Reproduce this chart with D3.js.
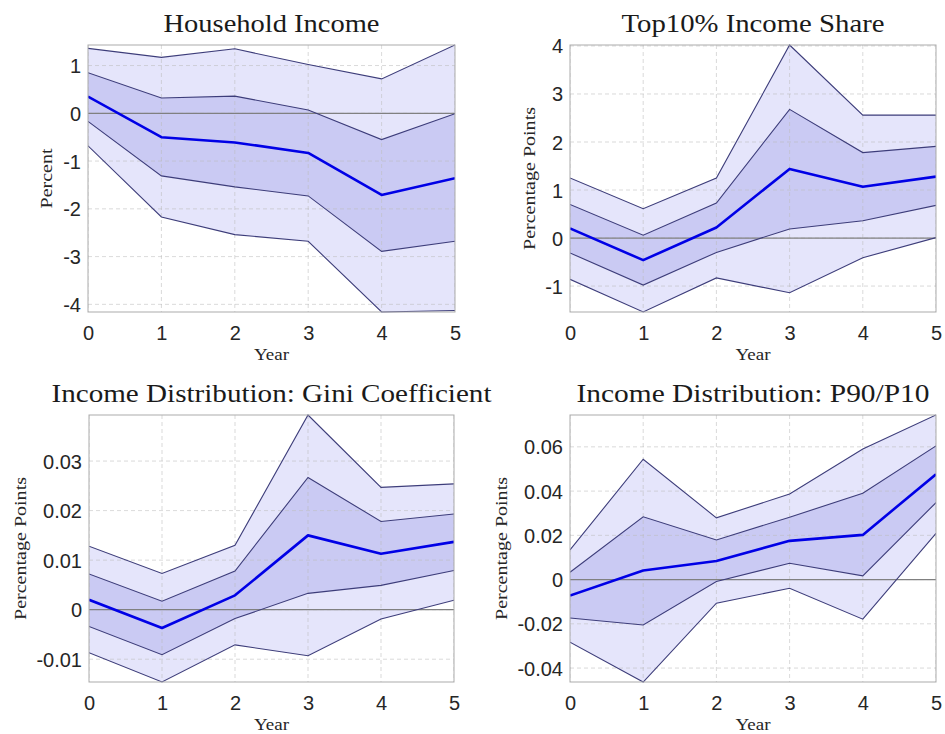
<!DOCTYPE html>
<html><head><meta charset="utf-8">
<script src="https://cdn.jsdelivr.net/npm/d3@7"></script>
<style>body{margin:0;background:#fff}svg{display:block}</style>
</head><body>
<script>
// ---------- data ----------
const years = [0, 1, 2, 3, 4, 5];

const titles = ["Household Income", "Top10% Income Share",
                "Income Distribution: Gini Coefficient", "Income Distribution: P90/P10"];
const yLabels = ["Percent", "Percentage Points", "Percentage Points", "Percentage Points"];
const xLabel = "Year";

const hhTicks = [-4, -3, -2, -1, 0, 1];
const hhMedian = [0.35, -0.50, -0.61, -0.83, -1.71, -1.36];
const hhLo68   = [-0.17, -1.31, -1.54, -1.73, -2.89, -2.68];
const hhHi68   = [0.85, 0.32, 0.36, 0.07, -0.55, -0.01];
const hhLo90   = [-0.68, -2.17, -2.54, -2.68, -4.16, -4.13];
const hhHi90   = [1.36, 1.17, 1.35, 1.02, 0.72, 1.43];

const topTicks = [-1, 0, 1, 2, 3, 4];
const topMedian = [0.20, -0.46, 0.22, 1.44, 1.07, 1.28];
const topLo68   = [-0.31, -0.98, -0.30, 0.19, 0.36, 0.68];
const topHi68   = [0.70, 0.06, 0.73, 2.68, 1.78, 1.91];
const topLo90   = [-0.86, -1.54, -0.83, -1.14, -0.41, 0.01];
const topHi90   = [1.25, 0.61, 1.25, 4.02, 2.56, 2.56];

const giniTicks = [-0.01, 0, 0.01, 0.02, 0.03];
const giniMedian = [0.0020, -0.0037, 0.0029, 0.0150, 0.0113, 0.0137];
const giniLo68   = [-0.0034, -0.0091, -0.0018, 0.0033, 0.0049, 0.0079];
const giniHi68   = [0.0072, 0.0017, 0.0078, 0.0267, 0.0178, 0.0193];
const giniLo90   = [-0.0087, -0.0146, -0.0071, -0.0093, -0.0019, 0.0019];
const giniHi90   = [0.0128, 0.0073, 0.0130, 0.0393, 0.0247, 0.0254];

const p9010Ticks = [-0.04, -0.02, 0, 0.02, 0.04, 0.06];
const p9010Median = [-0.0072, 0.0041, 0.0084, 0.0175, 0.0202, 0.0476];
const p9010Lo68   = [-0.0174, -0.0205, -0.0009, 0.0074, 0.0017, 0.0348];
const p9010Hi68   = [0.0033, 0.0284, 0.0179, 0.0282, 0.0390, 0.0604];
const p9010Lo90   = [-0.0283, -0.0463, -0.0107, -0.0039, -0.0179, 0.0209];
const p9010Hi90   = [0.0134, 0.0544, 0.0279, 0.0387, 0.0590, 0.0744];

const loc = d3.formatLocale({decimal: ".", thousands: ",", grouping: [3], currency: ["", ""], minus: "-"});
const fmt = loc.format("~g");

// ---------- layout ----------
const W = 945, H = 734;
const panels = [
  {x0: 88, x1: 455, y0: 45, y1: 312, med: hhMedian, lo68: hhLo68, hi68: hhHi68, lo90: hhLo90, hi90: hhHi90, ticks: hhTicks,
   titleY: 32, titleW: 216, ylabX: 52, ylabW: 60},
  {x0: 570, x1: 936, y0: 45, y1: 312, med: topMedian, lo68: topLo68, hi68: topHi68, lo90: topLo90, hi90: topHi90, ticks: topTicks,
   titleY: 32, titleW: 263, ylabX: 535, ylabW: 143},
  {x0: 89, x1: 454, y0: 415, y1: 682, med: giniMedian, lo68: giniLo68, hi68: giniHi68, lo90: giniLo90, hi90: giniHi90, ticks: giniTicks,
   titleY: 402, titleW: 440, ylabX: 26, ylabW: 143},
  {x0: 570, x1: 936, y0: 415, y1: 682, med: p9010Median, lo68: p9010Lo68, hi68: p9010Hi68, lo90: p9010Lo90, hi90: p9010Hi90, ticks: p9010Ticks,
   titleY: 402, titleW: 353, ylabX: 507, ylabW: 143}
];

const svg = d3.select("body").append("svg").attr("width", W).attr("height", H);
const serif = "'Liberation Serif', 'Times New Roman', serif";
const sans = "'Liberation Sans', Arial, sans-serif";

panels.forEach((p, i) => {
  const g = svg.append("g");
  const x = d3.scaleLinear().domain([0, 5]).range([p.x0, p.x1]);
  const all = [].concat(p.lo90, p.hi90);
  const y = d3.scaleLinear().domain([d3.min(all), d3.max(all)]).range([p.y1, p.y0]);

  const area = (lo, hi) => d3.area().x((d, j) => x(years[j])).y0((d, j) => y(lo[j])).y1((d, j) => y(hi[j]))(years);
  const line = (v) => d3.line().x((d, j) => x(years[j])).y((d, j) => y(v[j]))(years);

  const clipId = "clip" + i;
  g.append("clipPath").attr("id", clipId).append("rect")
    .attr("x", p.x0).attr("y", p.y0 - 1).attr("width", p.x1 - p.x0).attr("height", p.y1 - p.y0 + 2);
  const pg = g.append("g").attr("clip-path", `url(#${clipId})`);

  pg.append("path").attr("d", area(p.lo90, p.hi90)).attr("fill", "#e5e5fb");
  pg.append("path").attr("d", area(p.lo68, p.hi68)).attr("fill", "#cacaf3");

  // grid (dashed)
  pg.selectAll(".gx").data(years).join("line")
    .attr("x1", d => x(d)).attr("x2", d => x(d)).attr("y1", p.y0).attr("y2", p.y1)
    .attr("stroke", "#bdbdbd").attr("stroke-opacity", 0.7).attr("stroke-dasharray", "4,3").attr("stroke-width", 0.8);
  pg.selectAll(".gy").data(p.ticks).join("line")
    .attr("x1", p.x0).attr("x2", p.x1).attr("y1", d => y(d)).attr("y2", d => y(d))
    .attr("stroke", "#bdbdbd").attr("stroke-opacity", 0.7).attr("stroke-dasharray", "4,3").attr("stroke-width", 0.8);

  // zero line
  pg.append("line").attr("x1", p.x0).attr("x2", p.x1).attr("y1", y(0)).attr("y2", y(0))
    .attr("stroke", "#808080").attr("stroke-width", 1.2);

  [p.lo90, p.hi90, p.lo68, p.hi68].forEach(v => {
    pg.append("path").attr("d", line(v)).attr("fill", "none").attr("stroke", "#3d3d7a").attr("stroke-width", 1.1);
  });
  pg.append("path").attr("d", line(p.med)).attr("fill", "none").attr("stroke", "#0000e6").attr("stroke-width", 2.6)
    .attr("stroke-linejoin", "round");

  // box
  g.append("rect").attr("x", p.x0).attr("y", p.y0).attr("width", p.x1 - p.x0).attr("height", p.y1 - p.y0)
    .attr("fill", "none").attr("stroke", "#ababab").attr("stroke-width", 1);

  // axes
  const xAxis = d3.axisBottom(x).tickValues(years).tickSize(0).tickPadding(0).tickFormat(fmt);
  const xa = g.append("g").attr("transform", `translate(0,${p.y1})`).call(xAxis);
  xa.select(".domain").remove();
  xa.selectAll("text").attr("y", 28).attr("dy", null).attr("font-family", sans).attr("font-size", 20).attr("fill", "#262626");

  const yAxis = d3.axisLeft(y).tickValues(p.ticks).tickSize(0).tickPadding(7).tickFormat(fmt);
  const ya = g.append("g").attr("transform", `translate(${p.x0},0)`).call(yAxis);
  ya.select(".domain").remove();
  ya.selectAll("text").attr("font-family", sans).attr("font-size", 20).attr("fill", "#262626").attr("dy", "0.35em");

  // title
  g.append("text").attr("x", (p.x0 + p.x1) / 2).attr("y", p.titleY).attr("text-anchor", "middle")
    .attr("font-family", serif).attr("font-size", 25).attr("fill", "#1a1a1a")
    .attr("textLength", p.titleW).attr("lengthAdjust", "spacingAndGlyphs").text(titles[i]);

  // x label
  g.append("text").attr("x", (p.x0 + p.x1) / 2).attr("y", p.y1 + 48).attr("text-anchor", "middle")
    .attr("font-family", serif).attr("font-size", 16).attr("fill", "#262626")
    .attr("textLength", 35).attr("lengthAdjust", "spacingAndGlyphs").text(xLabel);

  // y label
  g.append("text").attr("transform", `translate(${p.ylabX},${(p.y0 + p.y1) / 2}) rotate(-90)`)
    .attr("text-anchor", "middle").attr("font-family", serif).attr("font-size", 16).attr("fill", "#262626")
    .attr("textLength", p.ylabW).attr("lengthAdjust", "spacingAndGlyphs").text(yLabels[i]);
});
</script>
</body></html>
